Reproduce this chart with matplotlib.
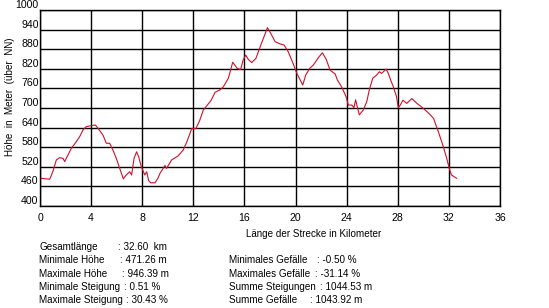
import matplotlib
matplotlib.use("Agg")
import matplotlib.pyplot as plt

# elevation profile
dist_km = [0.0, 0.76, 1.0, 1.28, 1.54, 1.8, 1.93, 2.19, 2.45, 2.66, 2.84, 3.1, 3.37, 3.62,
           4.0, 4.33, 4.54, 4.93, 5.19, 5.45, 5.71, 5.97, 6.24, 6.52, 6.75, 7.02, 7.17,
           7.36, 7.56, 7.72, 7.93, 8.2, 8.35, 8.5, 8.66, 9.0, 9.23, 9.39, 9.78, 9.9, 10.3,
           10.8, 11.2, 11.5, 11.87, 12.2, 12.5, 12.78, 13.04, 13.4, 13.7, 14.1, 14.35,
           14.74, 15.08, 15.44, 15.7, 15.9, 16.1, 16.3, 16.57, 16.9, 17.16, 17.48, 17.8,
           18.05, 18.4, 18.8, 19.1, 19.43, 19.8, 20.1, 20.3, 20.56, 20.8, 21.1, 21.4,
           21.8, 22.1, 22.4, 22.7, 23.1, 23.27, 23.6, 23.95, 24.13, 24.4, 24.57, 24.7,
           24.99, 25.3, 25.57, 25.77, 26.04, 26.35, 26.55, 26.74, 27.08, 27.26, 27.44,
           27.65, 27.9, 28.04, 28.2, 28.4, 28.7, 29.1, 29.5, 30.0, 30.5, 30.8, 31.17,
           31.56, 31.83, 32.03, 32.2, 32.6]
elev_m = [485, 482, 505, 541, 548, 546, 536, 556, 577, 587, 597, 612, 633, 643,
          646, 648, 638, 617, 592, 592, 571, 546, 515, 483, 495, 505, 495,
          546, 566, 551, 520, 495, 505, 478, 471, 471, 485, 500, 524, 515, 541,
          553, 571, 597, 637, 637, 662, 694, 706, 724, 748, 756, 765,
          791, 840, 821, 818, 847, 862, 849, 839, 852, 880, 913, 946,
          929, 903, 896, 893, 872, 837, 806, 791, 770, 801, 821, 832,
          855, 869, 849, 816, 804, 786, 765, 735, 709, 709, 701, 725,
          679, 694, 719, 755, 791, 801, 811, 806, 819, 806, 786,
          765, 735, 701, 709, 724, 714, 729, 714, 699, 681, 668, 628,
          582, 546, 515, 495, 485]

x_ticks = list(range(0, 37, 4))
y_ticks = list(range(400, 1001, 60))

stats_left = [("Gesamtlänge", ": 32.60  km"),
              ("Minimale Höhe", ": 471.26 m"),
              ("Maximale Höhe", ": 946.39 m"),
              ("Minimale Steigung", ": 0.51 %"),
              ("Maximale Steigung", ": 30.43 %")]
stats_right = [("Minimales Gefälle", ": -0.50 %"),
               ("Maximales Gefälle", ": -31.14 %"),
               ("Summe Steigungen", ": 1044.53 m"),
               ("Summe Gefälle", ": 1043.92 m")]

plt.rcParams['font.family'] = ['Liberation Sans', 'DejaVu Sans']
FS = 7.1
TICK_FS = 7.6

W, H = 549, 308
fig = plt.figure(figsize=(W / 100, H / 100), dpi=100)
ax = fig.add_axes([40 / W, (H - 206) / H, 460 / W, 196 / H])

ax.plot(dist_km, elev_m, color="#d0102a", linewidth=0.8)
ax.set_xlim(0, 36)
ax.set_ylim(400, 1000)
ax.set_xticks(x_ticks)
ax.set_yticks(y_ticks)
ax.grid(True, color="black", linewidth=1.0)
ax.set_axisbelow(True)
for s in ax.spines.values():
    s.set_color("black")
    s.set_linewidth(1.0)
ax.tick_params(length=0, labelsize=TICK_FS)
ax.tick_params(axis="x", pad=5)
ax.tick_params(axis="y", pad=1)
for lab in ax.get_yticklabels():
    lab.set_va("bottom")

def px(x, y, s, **kw):
    fig.text(x / W, 1 - y / H, s, fontsize=FS, **kw)

px(10, 97, "Höhe  in  Meter  (über  NN)", rotation=90, ha="center", va="center")
px(314, 234, "Länge der Strecke in Kilometer", ha="center", va="center")

left_colons = [118, 120.5, 122.5, 124, 125.5]
for i, (name, val) in enumerate(stats_left):
    y = 247 + i * 13.3
    px(39, y, name, va="center")
    px(left_colons[i], y, val, va="center")

right_colons = [317, 315, 320, 310.5]
for i, (name, val) in enumerate(stats_right):
    y = 247 + (i + 1) * 13.3
    px(229, y, name, va="center")
    px(right_colons[i], y, val, va="center")

fig.savefig("out.png", dpi=100)
